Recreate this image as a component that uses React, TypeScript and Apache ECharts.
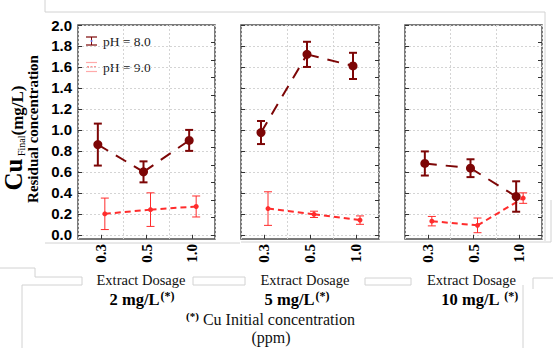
import React, { useEffect, useRef } from 'react';
import * as echarts from 'echarts';

// ---- data ----
const categories = ['0.3', '0.5', '1.0'];
const panelLabels = ['2 mg/L', '5 mg/L', '10 mg/L '];
const yTickValues = [0, 0.2, 0.4, 0.6, 0.8, 1.0, 1.2, 1.4, 1.6, 1.8, 2.0];
const minorTickValues = [0, 0.167, 0.333, 0.5, 0.667, 0.833, 1.0, 1.167, 1.333, 1.5, 1.667, 1.833];

// pH = 8.0 (mean, error) per initial concentration
const ph8Mean2 = [0.86, 0.6, 0.9];
const ph8Err2 = [0.2, 0.1, 0.1];
const ph8Mean5 = [0.975, 1.72, 1.61];
const ph8Err5 = [0.11, 0.12, 0.125];
const ph8Mean10 = [0.68, 0.635, 0.365];
const ph8Err10 = [0.115, 0.085, 0.145];

// pH = 9.0
const ph9Mean2 = [0.2, 0.24, 0.27];
const ph9Err2 = [0.15, 0.16, 0.1];
const ph9Mean5 = [0.25, 0.195, 0.14];
const ph9Err5 = [0.16, 0.03, 0.04];
const ph9Mean10 = [0.13, 0.09, 0.35];
const ph9Err10 = [0.045, 0.07, 0.05];

const ph8Means = [ph8Mean2, ph8Mean5, ph8Mean10];
const ph8Errs = [ph8Err2, ph8Err5, ph8Err10];
const ph9Means = [ph9Mean2, ph9Mean5, ph9Mean10];
const ph9Errs = [ph9Err2, ph9Err5, ph9Err10];

// ---- style ----
const DARK = '#7d0606';
const RED = '#ff2c2c';
const SERIF = 'Liberation Serif';
const SANS = 'Liberation Sans';
const GRIDS = [
  { left: 78, width: 137 },
  { left: 241, width: 138 },
  { left: 405, width: 137 },
];
const TOP = 25;
const HEIGHT = 214;

type Sty = { dx: number; width: number; barWidth: number; dash: number[]; r: number; cap: number };
const darkSty: Sty = { dx: -3, width: 2, barWidth: 2, dash: [12, 9], r: 4.5, cap: 4 };
const redSty: Sty = { dx: 4, width: 2, barWidth: 1, dash: [6, 4], r: 2.5, cap: 4 };

function makeRender(means: number[], color: string, s: Sty) {
  return (params: any, api: any) => {
    const i = api.value(0);
    const m = api.value(1);
    const e = api.value(2);
    const p = api.coord([i, m]);
    const t = api.coord([i, m + e]);
    const b = api.coord([i, m - e]);
    const x = p[0] + s.dx;
    const children: any[] = [];
    if (i > 0) {
      const q = api.coord([i - 1, means[i - 1]]);
      children.push({
        type: 'line',
        shape: { x1: q[0] + s.dx, y1: q[1], x2: x, y2: p[1] },
        style: { stroke: color, lineWidth: s.width, lineDash: s.dash },
      });
    }
    const bs = { stroke: color, lineWidth: s.barWidth };
    children.push({ type: 'line', shape: { x1: x, y1: t[1], x2: x, y2: b[1] }, style: bs });
    children.push({ type: 'line', shape: { x1: x - s.cap, y1: t[1], x2: x + s.cap, y2: t[1] }, style: bs });
    children.push({ type: 'line', shape: { x1: x - s.cap, y1: b[1], x2: x + s.cap, y2: b[1] }, style: bs });
    children.push({ type: 'circle', shape: { cx: x, cy: p[1], r: s.r }, style: { fill: color } });
    return { type: 'group', children };
  };
}

export default function App() {
  const ref = useRef<HTMLDivElement>(null);
  useEffect(() => {
    if (!ref.current) return;
    const chart = echarts.init(ref.current, undefined, { renderer: 'svg' });

    const grid = GRIDS.map((g) => ({
      left: g.left,
      width: g.width,
      top: TOP,
      height: HEIGHT,
      show: true,
      borderColor: '#505050',
      borderWidth: 1.5,
      backgroundColor: 'transparent',
    }));

    const xAxis: any[] = [];
    const yAxis: any[] = [];
    const series: any[] = [];
    GRIDS.forEach((_, gi) => {
      xAxis.push({
        type: 'category',
        gridIndex: gi,
        data: categories,
        boundaryGap: true,
        axisLine: { show: false },
        axisTick: { show: false, alignWithLabel: true },
        axisLabel: {
          rotate: 90,
          margin: 5,
          fontFamily: SERIF,
          fontWeight: 'bold',
          fontSize: 15,
          color: '#000',
        },
        splitLine: { show: true, lineStyle: { color: '#d4d4d4', type: [2, 2], width: 1 } },
      });
      xAxis.push({
        type: 'category',
        gridIndex: gi,
        position: 'top',
        data: categories,
        boundaryGap: true,
        axisLine: { show: false },
        axisTick: { show: true, inside: true, length: 4, alignWithLabel: true, lineStyle: { color: '#333' } },
        axisLabel: { show: false },
        splitLine: { show: false },
      });
      yAxis.push({
        type: 'value',
        gridIndex: gi,
        min: -0.04,
        max: 2.0,
        axisLine: { show: false },
        axisTick: { show: true, inside: true, length: 4, customValues: yTickValues, lineStyle: { color: '#333' } },
        axisLabel: {
          show: gi === 0,
          customValues: yTickValues,
          margin: 6,
          fontFamily: SANS,
          fontWeight: 'bold',
          fontSize: 15,
          color: '#000',
          formatter: (v: number) => v.toFixed(1),
        },
        splitLine: { show: true, lineStyle: { color: '#d4d4d4', type: [2, 2], width: 1 } },
      });
      yAxis.push({
        type: 'value',
        gridIndex: gi,
        position: 'right',
        min: -0.04,
        max: 2.0,
        axisLine: { show: false },
        axisTick: { show: true, inside: true, length: 4, customValues: minorTickValues, lineStyle: { color: '#333' } },
        axisLabel: { show: false },
        splitLine: { show: false },
      });
      const mk = (means: number[], errs: number[], color: string, s: Sty, name: string) => ({
        type: 'custom',
        name,
        xAxisIndex: gi * 2,
        yAxisIndex: gi * 2,
        clip: false,
        encode: { x: 0, y: 1 },
        data: means.map((m, i) => [i, m, errs[i]]),
        renderItem: makeRender(means, color, s),
      });
      series.push(mk(ph9Means[gi], ph9Errs[gi], RED, redSty, 'pH = 9.0'));
      series.push(mk(ph8Means[gi], ph8Errs[gi], DARK, darkSty, 'pH = 8.0'));
    });

    const faint = { stroke: '#d2d2d2', lineWidth: 1, fill: 'none' };
    const poly = (pts: number[][]) => ({ type: 'polyline', silent: true, shape: { points: pts }, style: faint });

    const graphic: any[] = [
      // scan frame artefacts
      poly([[45, 0], [45, 12], [545, 12], [545, 241]]),
      poly([[45, 243], [240, 243]]),
      poly([[241, 242], [551, 242], [551, 200]]),
      poly([[0, 268], [35, 268], [35, 277], [82, 277], [82, 285], [22, 285], [22, 348]]),
      poly([[193, 277], [193, 285], [245, 285], [245, 277], [193, 277]]),
      poly([[365, 278], [365, 285], [411, 285], [411, 278], [365, 278]]),
      poly([[553, 278], [533, 278], [533, 289]]),
      poly([[523, 285], [523, 348]]),
      // y axis title
      {
        type: 'text',
        x: 14,
        y: 138,
        rotation: Math.PI / 2,
        style: {
          text: '{cu|Cu}{f| Final}{mg|(mg/L)}',
          align: 'center',
          verticalAlign: 'middle',
          rich: {
            cu: { fontFamily: SERIF, fontWeight: 'bold', fontSize: 25, fill: '#000', lineHeight: 24, verticalAlign: 'bottom' },
            f: { fontFamily: SERIF, fontSize: 10, fill: '#000', lineHeight: 24, verticalAlign: 'bottom' },
            mg: { fontFamily: SERIF, fontWeight: 'bold', fontSize: 17, fill: '#000', lineHeight: 24, verticalAlign: 'bottom' },
          },
        },
      },
      {
        type: 'text',
        x: 33,
        y: 129,
        rotation: Math.PI / 2,
        style: {
          text: 'Residual concentration',
          align: 'center',
          verticalAlign: 'middle',
          fontFamily: SERIF,
          fontWeight: 'bold',
          fontSize: 15,
          fill: '#000',
        },
      },
      // legend
      { type: 'line', shape: { x1: 86, y1: 37, x2: 97, y2: 37 }, style: { stroke: DARK, lineWidth: 1.2 } },
      { type: 'line', shape: { x1: 86, y1: 45, x2: 97, y2: 45 }, style: { stroke: DARK, lineWidth: 1.2 } },
      { type: 'line', shape: { x1: 91.5, y1: 37, x2: 91.5, y2: 45 }, style: { stroke: DARK, lineWidth: 1 } },
      { type: 'circle', shape: { cx: 91.5, cy: 41, r: 1 }, style: { fill: '#6a6ad8' } },
      { type: 'line', shape: { x1: 86, y1: 62.5, x2: 97, y2: 62.5 }, style: { stroke: '#ffaaaa', lineWidth: 1.2 } },
      { type: 'line', shape: { x1: 86, y1: 71.5, x2: 97, y2: 71.5 }, style: { stroke: '#ffaaaa', lineWidth: 1.2 } },
      { type: 'line', shape: { x1: 87, y1: 67, x2: 96, y2: 67 }, style: { stroke: RED, lineWidth: 1.2, lineDash: [2, 1.5] } },
      { type: 'text', x: 103, y: 41, style: { text: 'pH = 8.0', fontFamily: SERIF, fontSize: 13.5, fill: '#222', verticalAlign: 'middle' } },
      { type: 'text', x: 103, y: 67.5, style: { text: 'pH = 9.0', fontFamily: SERIF, fontSize: 13.5, fill: '#222', verticalAlign: 'middle' } },
    ];

    const dosageX = [141, 305, 471.5];
    const concX = [142, 297, 479.5];
    dosageX.forEach((x) =>
      graphic.push({
        type: 'text',
        x,
        y: 279.5,
        style: { text: 'Extract Dosage', fontFamily: SERIF, fontSize: 14.5, fill: '#111', align: 'center', verticalAlign: 'middle' },
      })
    );
    panelLabels.forEach((lab, i) =>
      graphic.push({
        type: 'text',
        x: concX[i],
        y: 299.5,
        style: {
          text: `{b|${lab}}{s|(*)}`,
          align: 'center',
          verticalAlign: 'middle',
          rich: {
            b: { fontFamily: SERIF, fontWeight: 'bold', fontSize: 16.5, fill: '#000', lineHeight: 20 },
            s: { fontFamily: SERIF, fontWeight: 'bold', fontSize: 12, fill: '#000', lineHeight: 20, verticalAlign: 'top', padding: [0, 0, 0, 1] },
          },
        },
      })
    );
    graphic.push({
      type: 'text',
      x: 270.5,
      y: 319.5,
      style: {
        text: '{s|(*)}{t| Cu Initial concentration}',
        align: 'center',
        verticalAlign: 'middle',
        rich: {
          s: { fontFamily: SERIF, fontWeight: 'bold', fontSize: 11, fill: '#000', lineHeight: 18, verticalAlign: 'top' },
          t: { fontFamily: SERIF, fontSize: 16, fill: '#111', lineHeight: 18 },
        },
      },
    });
    graphic.push({
      type: 'text',
      x: 271,
      y: 337,
      style: { text: '(ppm)', fontFamily: SERIF, fontSize: 16, fill: '#111', align: 'center', verticalAlign: 'middle' },
    });

    chart.setOption({
      animation: false,
      backgroundColor: '#fff',
      grid,
      xAxis,
      yAxis,
      series,
      graphic,
    });
    return () => chart.dispose();
  }, []);
  return <div ref={ref} style={{ position: 'fixed', left: 0, top: 0, width: 553, height: 348 }} />;
}
